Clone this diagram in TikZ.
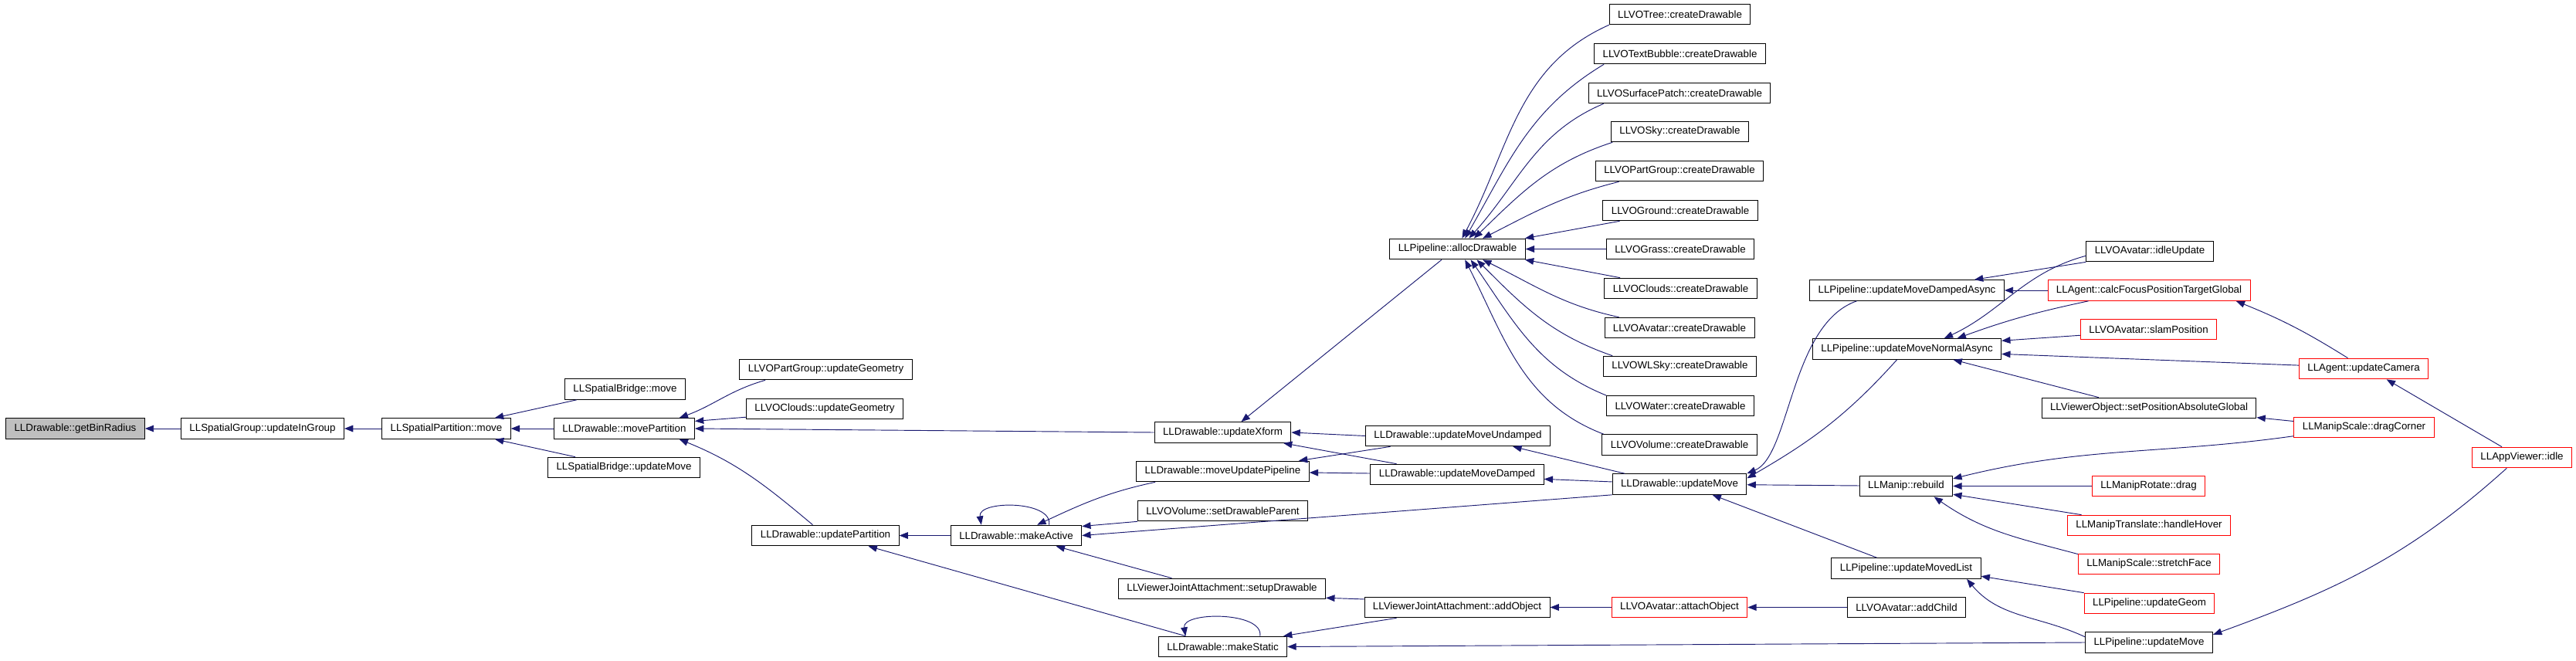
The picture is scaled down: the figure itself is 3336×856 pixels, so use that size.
\documentclass[tikz,border=0pt]{standalone}
\usepackage{fontspec}
\setmainfont{Liberation Sans}
\usepackage{xcolor}
\usepackage{tikz}
\usetikzlibrary{arrows.meta}

\definecolor{edgeblue}{HTML}{191970}
\definecolor{rootgray}{HTML}{BFBFBF}

\begin{document}
\begin{tikzpicture}[x=0.75pt, y=0.75pt,
        fn/.style={draw, rectangle, line width=0.75pt, font=\fontsize{10}{12}\selectfont,
                   inner xsep=8.2pt, inner ysep=0pt, minimum height=20pt},
        fnred/.style={fn, draw=red},
        fnroot/.style={fn, fill=rootgray},
        call/.style={draw=edgeblue, line width=0.7pt, -{Triangle[length=8.5pt, width=6.5pt]}}]
        \useasboundingbox (0,0) rectangle (3336,-856);

        % Define the nodes
        \node[fnroot] (getbin) at (97.5,-555) {LLDrawable::getBinRadius};
        \node[fn] (upgroup) at (340,-555) {LLSpatialGroup::updateInGroup};
        \node[fn] (spmove) at (578,-555) {LLSpatialPartition::move};
        \node[fn] (movepart) at (808.5,-555) {LLDrawable::movePartition};
        \node[fn] (sbmove) at (809.5,-504) {LLSpatialBridge::move};
        \node[fn] (sbupdmove) at (808,-605.5) {LLSpatialBridge::updateMove};
        \node[fn] (pgupdgeom) at (1069.5,-478.5) {LLVOPartGroup::updateGeometry};
        \node[fn] (clupdgeom) at (1068,-529.5) {LLVOClouds::updateGeometry};
        \node[fn] (updpart) at (1069,-693.5) {LLDrawable::updatePartition};
        \node[fn] (makeactive) at (1316,-693.5) {LLDrawable::makeActive};
        \node[fn] (updxform) at (1583.5,-560) {LLDrawable::updateXform};
        \node[fn] (moveupdpipe) at (1583.5,-610.5) {LLDrawable::moveUpdatePipeline};
        \node[fn] (setdrawparent) at (1583.5,-661.5) {LLVOVolume::setDrawableParent};
        \node[fn] (setupdrawable) at (1582.5,-762.5) {LLViewerJointAttachment::setupDrawable};
        \node[fn] (makestatic) at (1583.5,-837.5) {LLDrawable::makeStatic};
        \node[fn] (alloc) at (1887.5,-322.5) {LLPipeline::allocDrawable};
        \node[fn] (updundamped) at (1888,-564.5) {LLDrawable::updateMoveUndamped};
        \node[fn] (upddamped) at (1887,-614.5) {LLDrawable::updateMoveDamped};
        \node[fn] (addobject) at (1887,-786.5) {LLViewerJointAttachment::addObject};
        \node[fn] (tree) at (2175.5,-18.5) {LLVOTree::createDrawable};
        \node[fn] (textbubble) at (2175.5,-69.5) {LLVOTextBubble::createDrawable};
        \node[fn] (surfpatch) at (2175,-120.5) {LLVOSurfacePatch::createDrawable};
        \node[fn] (sky) at (2175.5,-170.5) {LLVOSky::createDrawable};
        \node[fn] (partgroup) at (2175,-221.5) {LLVOPartGroup::createDrawable};
        \node[fn] (ground) at (2176,-272.5) {LLVOGround::createDrawable};
        \node[fn] (grass) at (2176,-322.5) {LLVOGrass::createDrawable};
        \node[fn] (clouds) at (2176.5,-373.5) {LLVOClouds::createDrawable};
        \node[fn] (avatar) at (2175,-424.5) {LLVOAvatar::createDrawable};
        \node[fn] (wlsky) at (2175.5,-474.5) {LLVOWLSky::createDrawable};
        \node[fn] (water) at (2176,-525.5) {LLVOWater::createDrawable};
        \node[fn] (volume) at (2175,-576) {LLVOVolume::createDrawable};
        \node[fn] (updmove) at (2175,-627) {LLDrawable::updateMove};
        \node[fnred] (attach) at (2175,-786.5) {LLVOAvatar::attachObject};
        \node[fn] (dampasync) at (2469.5,-376) {LLPipeline::updateMoveDampedAsync};
        \node[fn] (normasync) at (2469.5,-452) {LLPipeline::updateMoveNormalAsync};
        \node[fn] (rebuild) at (2468.5,-629.5) {LLManip::rebuild};
        \node[fn] (movedlist) at (2468.5,-736) {LLPipeline::updateMovedList};
        \node[fn] (addchild) at (2469,-786.5) {LLVOAvatar::addChild};
        \node[fn] (idleupd) at (2784,-325.5) {LLVOAvatar::idleUpdate};
        \node[fnred] (calcfocus) at (2783,-376) {LLAgent::calcFocusPositionTargetGlobal};
        \node[fnred] (slampos) at (2782.5,-426.5) {LLVOAvatar::slamPosition};
        \node[fn] (setposabs) at (2783,-528.5) {LLViewerObject::setPositionAbsoluteGlobal};
        \node[fnred] (rotdrag) at (2782.5,-629.5) {LLManipRotate::drag};
        \node[fnred] (hover) at (2783,-680.5) {LLManipTranslate::handleHover};
        \node[fnred] (stretch) at (2783,-730.5) {LLManipScale::stretchFace};
        \node[fnred] (updgeom) at (2783.5,-781.5) {LLPipeline::updateGeom};
        \node[fn] (pipemove) at (2783,-832) {LLPipeline::updateMove};
        \node[fnred] (camera) at (3061,-477.5) {LLAgent::updateCamera};
        \node[fnred] (dragcorner) at (3061.5,-553.5) {LLManipScale::dragCorner};
        \node[fnred] (appidle) at (3266,-592.5) {LLAppViewer::idle};

        % Draw the arrows
        \draw[call] (upgroup) -- (getbin);
        \draw[call] (spmove) -- (upgroup);
        \draw[call] (sbmove) -- (spmove);
        \draw[call] (movepart) -- (spmove);
        \draw[call] (sbupdmove) -- (spmove);
        \draw[call] (pgupdgeom.190) to[out=196, in=20] (movepart.11);
        \draw[call] (clupdgeom.186) -- (movepart.6);
        \draw[call] (updxform.west) -- (movepart.east);
        \draw[call] (updpart.140) to[out=140, in=-22] (movepart.-11);
        \draw[call] (makeactive) -- (updpart);
        \draw[call] (makestatic.164) -- (updpart.-14);
        \draw[call] (makeactive.18) .. controls +(5,32) and +(-5,32) .. (makeactive.163);
        \draw[call] (makestatic.16) .. controls +(5,32) and +(-5,32) .. (makestatic.164);
        \draw[call] (moveupdpipe.189) to[out=192, in=25] (makeactive.27);
        \draw[call] (setdrawparent.south west) -- (makeactive.8);
        \draw[call] (updmove.south west) -- (makeactive.east);
        \draw[call] (setupdrawable.168) -- (makeactive.-15);
        \draw[call] (alloc.-146) -- (updxform.30);
        \draw[call] (updundamped.west) -- (updxform.east);
        \draw[call] (upddamped.170) -- (updxform.-10);
        \draw[call] (updundamped.189) -- (moveupdpipe.8);
        \draw[call] (upddamped) -- (moveupdpipe);
        \draw[call] (addobject.175) -- (setupdrawable.-5);
        \draw[call] (addobject.190) -- (makestatic.10);
        \draw[call] (pipemove.west) -- (makestatic.east);
        \draw[call] (tree.south west) to[out=204, in=62] (alloc.67);
        \draw[call] (textbubble.188) to[out=211, in=60] (alloc.55);
        \draw[call] (surfpatch.188) to[out=203, in=48] (alloc.43);
        \draw[call] (sky.189) to[out=198, in=44] (alloc.33);
        \draw[call] (partgroup.190) to[out=194, in=27] (alloc.23);
        \draw[call] (ground.190) -- (alloc.9);
        \draw[call] (grass) -- (alloc);
        \draw[call] (clouds.170) -- (alloc.-9);
        \draw[call] (avatar.170) to[out=168, in=-26] (alloc.-23);
        \draw[call] (wlsky.171) to[out=161, in=-45] (alloc.-29);
        \draw[call] (water.172) to[out=158, in=-55] (alloc.-39);
        \draw[call] (volume.172) to[out=159, in=-63] (alloc.-55);
        \draw[call] (updmove.169) -- (updundamped.-11);
        \draw[call] (updmove.178) -- (upddamped.-3);
        \draw[call] (dampasync.192) .. controls +(-86,-30) and +(56,23) .. (updmove.north east);
        \draw[call] (normasync.227) to[out=228, in=30] (updmove.5);
        \draw[call] (rebuild) -- (updmove);
        \draw[call] (movedlist.160) -- (updmove.-18);
        \draw[call] (attach) -- (addobject);
        \draw[call] (addchild) -- (attach);
        \draw[call] (idleupd.south west) -- (dampasync.9);
        \draw[call] (calcfocus) -- (dampasync);
        \draw[call] (idleupd.184) to[out=195, in=25] (normasync.16);
        \draw[call] (calcfocus.190) to[out=192, in=20] (normasync.12);
        \draw[call] (slampos.185) -- (normasync.5);
        \draw[call] (camera.177) -- (normasync.-3);
        \draw[call] (setposabs.168) -- (normasync.-13);
        \draw[call] (camera.146) to[out=148, in=-22] (calcfocus.-7);
        \draw[call] (dragcorner.175) -- (setposabs.-5);
        \draw[call] (dragcorner.187) to[out=188, in=14] (rebuild.9);
        \draw[call] (rotdrag) -- (rebuild);
        \draw[call] (hover.171) -- (rebuild.-10);
        \draw[call] (stretch.172) to[out=165, in=-35] (rebuild.-21);
        \draw[call] (updgeom.north west) -- (movedlist.-6);
        \draw[call] (pipemove.175) to[out=155, in=-50] (movedlist.-10);
        \draw[call] (appidle.152) -- (camera.-25);
        \draw[call] (appidle.-145) to[out=222, in=20] (pipemove.7);
    \end{tikzpicture}
\end{document}
